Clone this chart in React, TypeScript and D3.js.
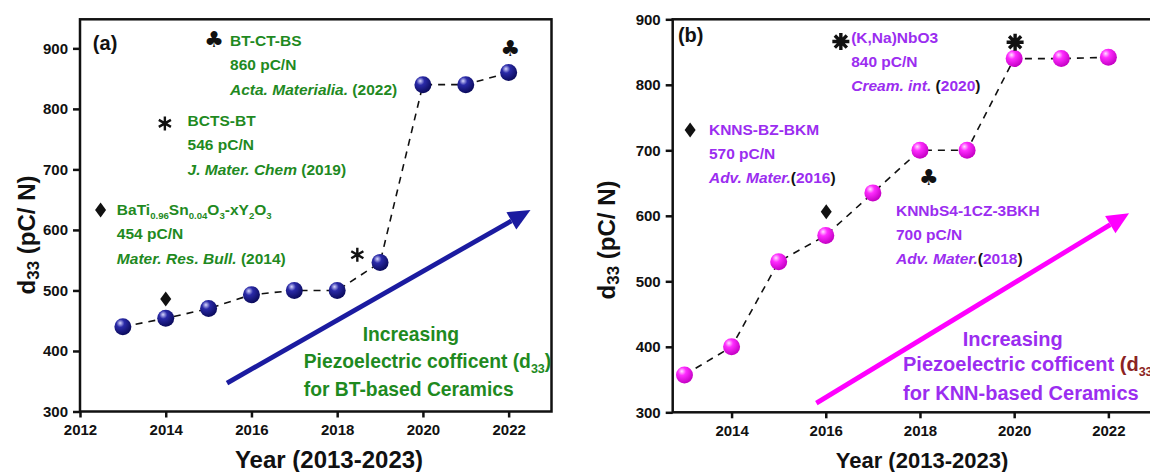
import React, { useEffect, useRef } from 'react';
import * as d3 from 'd3';

const WIDTH = 1150;
const HEIGHT = 472;
const FONT = '"Liberation Sans", Arial, Helvetica, sans-serif';
const SYMBOL_FONT = '"DejaVu Sans", sans-serif';

// d33 values
const years = [2013, 2014, 2015, 2016, 2017, 2018, 2019, 2020, 2021, 2022];
const btValues = [440, 454, 470, 493, 500, 500, 546, 840, 840, 860];
const knnValues = [357, 400, 530, 570, 635, 700, 700, 840, 840, 842];

const yTicks = [300, 400, 500, 600, 700, 800, 900];
const btYearTicks = [2012, 2014, 2016, 2018, 2020, 2022];
const knnYearTicks = [2014, 2016, 2018, 2020, 2022];

const GREEN = '#1f8a1f';
const PURPLE = '#9b2df0';

// annotation blocks (positions are in data units)
const btNotes = [
  {
    mark: 'club', markAt: [2015.13, 914], textAt: [2015.5, 904],
    lines: [
      [{ t: 'BT-CT-BS' }],
      [{ t: '860 pC/N' }],
      [{ t: 'Acta. Materialia.', i: true }, { t: ' (2022)' }],
    ],
  },
  {
    mark: 'star', markAt: [2013.98, 776], textAt: [2014.51, 772],
    lines: [
      [{ t: 'BCTS-BT' }],
      [{ t: '546 pC/N' }],
      [{ t: 'J. Mater. Chem', i: true }, { t: ' (2019)' }],
    ],
  },
  {
    mark: 'diamond', markAt: [2012.48, 633], textAt: [2012.86, 625],
    lines: [
      [{ t: 'BaTi' }, { t: '0.96', s: true }, { t: 'Sn' }, { t: '0.04', s: true }, { t: 'O' }, { t: '3', s: true },
        { t: '-xY' }, { t: '2', s: true }, { t: 'O' }, { t: '3', s: true }],
      [{ t: '454 pC/N' }],
      [{ t: 'Mater. Res. Bull.', i: true }, { t: ' (2014)' }],
    ],
  },
];

const knnNotes = [
  {
    mark: 'star8', markAt: [2016.32, 866], textAt: [2016.54, 864],
    lines: [
      [{ t: '(K,Na)NbO3' }],
      [{ t: '840 pC/N' }],
      [{ t: 'Cream. int.', i: true }, { t: ' (', c: '#111' }, { t: '2020' }, { t: ')', c: '#111' }],
    ],
  },
  {
    mark: 'diamond', markAt: [2013.12, 731], textAt: [2013.52, 723],
    lines: [
      [{ t: 'KNNS-BZ-BKM' }],
      [{ t: '570 pC/N' }],
      [{ t: 'Adv. Mater.', i: true }, { t: '(', c: '#111' }, { t: '2016' }, { t: ')', c: '#111' }],
    ],
  },
  {
    mark: null, markAt: null, textAt: [2017.49, 600],
    lines: [
      [{ t: 'KNNbS4-1CZ-3BKH' }],
      [{ t: '700 pC/N' }],
      [{ t: 'Adv. Mater.', i: true }, { t: '(', c: '#111' }, { t: '2018' }, { t: ')', c: '#111' }],
    ],
  },
];

const btPointMarks = [
  { mark: 'diamond', at: [2014, 486] },
  { mark: 'star', at: [2018.47, 559] },
  { mark: 'club', at: [2022.04, 900] },
];
const knnPointMarks = [
  { mark: 'diamond', at: [2016.01, 606] },
  { mark: 'club', at: [2018.19, 659] },
  { mark: 'star8', at: [2020.02, 865] },
];

const panels = [
  {
    id: 'a', label: '(a)', labelAt: [2012.3, 897],
    xDomain: [2012, 2023], xRange: [80, 551.5],
    yDomain: [300, 948], yRange: [411.5, 19.3],
    xTicks: btYearTicks, values: btValues,
    ball: ['#d8d8ff', '#2a2aa8', '#0b0b5c'],
    textColor: GREEN, arrowColor: '#1b1ba0',
    notes: btNotes, pointMarks: btPointMarks, lineGap: 24.5,
    arrow: [[2015.43, 347], [2022.51, 633]],
    trend: { center: 2019.72, top: 417, left: 2017.22, lines: [372, 326], kind: 'BT', subColor: GREEN, size: 19.3 },
    yTitle: [26, 235], xTitle: [329, 24],
  },
  {
    id: 'b', label: '(b)', labelAt: [2012.86, 865],
    xDomain: [2012.75, 2023.3], xRange: [672.7, 1169.6],
    yDomain: [300, 900], yRange: [412.3, 19.3],
    xTicks: knnYearTicks, values: knnValues,
    ball: ['#ffe0ff', '#ff2cff', '#c400c4'],
    textColor: PURPLE, arrowColor: '#ff00ff',
    notes: knnNotes, pointMarks: knnPointMarks, lineGap: 24,
    arrow: [[2015.8, 314], [2022.44, 604]],
    trend: { center: 2019.97, top: 401, left: 2017.64, lines: [363, 319], kind: 'KNN', subColor: '#8b2323', size: 20 },
    yTitle: [606, 240], xTitle: [922, 22],
  },
];

const Mark = ({ kind, x, y }) => {
  if (kind === 'diamond') {
    return <path d={`M${x},${y - 7.5}L${x + 5.5},${y}L${x},${y + 7.5}L${x - 5.5},${y}Z`} fill="#111" />;
  }
  if (kind === 'club') {
    return (
      <text x={x} y={y} fontFamily={SYMBOL_FONT} fontSize={22} textAnchor="middle"
        dominantBaseline="central" fill="#111">♣</text>
    );
  }
  const n = kind === 'star8' ? 4 : 3;
  const r = kind === 'star8' ? 8.5 : 7;
  const w = kind === 'star8' ? 3.4 : 2.4;
  const d = d3.range(n).map(k => {
    const a = Math.PI / 2 + (k * Math.PI) / n;
    return `M${x - r * Math.cos(a)},${y - r * Math.sin(a)}L${x + r * Math.cos(a)},${y + r * Math.sin(a)}`;
  }).join('');
  return <path d={d} stroke="#111" strokeWidth={w} />;
};

const RichLine = ({ x, y, segs, color, size }) => {
  let shifted = false;
  return (
    <text x={x} y={y} fontFamily={FONT} fontWeight="bold" fontSize={size} fill={color}>
      {segs.map((s, i) => {
        let dy = 0;
        if (s.s && !shifted) { dy = size * 0.3; shifted = true; }
        if (!s.s && shifted) { dy = -size * 0.3; shifted = false; }
        return (
          <tspan key={i} dy={dy || undefined} fontStyle={s.i ? 'italic' : 'normal'}
            fontSize={s.s ? size * 0.62 : size} fill={s.c || color}>{s.t}</tspan>
        );
      })}
    </text>
  );
};

const Panel = ({ p }) => {
  const xAxisRef = useRef(null);
  const yAxisRef = useRef(null);

  const x = d3.scaleLinear().domain(p.xDomain).range(p.xRange);
  const y = d3.scaleLinear().domain(p.yDomain).range(p.yRange);

  useEffect(() => {
    const style = g => {
      g.select('.domain').remove();
      g.selectAll('.tick line').attr('stroke', '#111').attr('stroke-width', 2.5);
      g.selectAll('.tick text')
        .attr('fill', '#111')
        .attr('font-family', FONT)
        .attr('font-weight', 'bold')
        .attr('font-size', 15);
    };
    d3.select(xAxisRef.current)
      .attr('transform', `translate(0, ${p.yRange[0]})`)
      .call(d3.axisBottom(x).tickValues(p.xTicks).tickFormat(d3.format('d')).tickSize(6).tickPadding(7))
      .call(style);
    d3.select(yAxisRef.current)
      .attr('transform', `translate(${p.xRange[0]}, 0)`)
      .call(d3.axisLeft(y).tickValues(yTicks).tickFormat(d3.format('d')).tickSize(7).tickPadding(5))
      .call(style);
  }, [p]);

  const line = d3.line().x(d => x(d[0])).y(d => y(d[1]));
  const pts = years.map((yr, i) => [yr, p.values[i]]);

  // arrow geometry
  const [a0, a1] = p.arrow.map(d => [x(d[0]), y(d[1])]);
  const ang = Math.atan2(a1[1] - a0[1], a1[0] - a0[0]);
  const headLen = 22;
  const headW = 10;
  const base = [a1[0] - headLen * Math.cos(ang), a1[1] - headLen * Math.sin(ang)];
  const head = [
    a1,
    [base[0] + headW * Math.sin(ang), base[1] - headW * Math.cos(ang)],
    [base[0] - headW * Math.sin(ang), base[1] + headW * Math.cos(ang)],
  ];

  const tr = p.trend;
  const fs = tr.size;

  return (
    <g>
      <defs>
        <radialGradient id={`ball-${p.id}`} cx="38%" cy="32%" r="68%" fx="34%" fy="28%">
          <stop offset="0%" stopColor={p.ball[0]} />
          <stop offset="35%" stopColor={p.ball[1]} />
          <stop offset="100%" stopColor={p.ball[2]} />
        </radialGradient>
      </defs>

      <rect x={p.xRange[0]} y={p.yRange[1]} width={p.xRange[1] - p.xRange[0]}
        height={p.yRange[0] - p.yRange[1]} fill="none" stroke="#111" strokeWidth={2.5} />
      <g ref={xAxisRef} />
      <g ref={yAxisRef} />

      <text x={x(p.labelAt[0])} y={y(p.labelAt[1])} fontFamily={FONT} fontWeight="bold"
        fontSize={20} fill="#111">{p.label}</text>

      {/* trend arrow */}
      <line x1={a0[0]} y1={a0[1]} x2={base[0]} y2={base[1]} stroke={p.arrowColor} strokeWidth={4.8} />
      <path d={`M${head.map(d => d.join(',')).join('L')}Z`} fill={p.arrowColor} />

      <path d={line(pts)} fill="none" stroke="#111" strokeWidth={1.6} strokeDasharray="7,6" />
      {pts.map((d, i) => (
        <circle key={i} cx={x(d[0])} cy={y(d[1])} r={8.5} fill={`url(#ball-${p.id})`} />
      ))}

      {p.pointMarks.map((m, i) => (
        <Mark key={i} kind={m.mark} x={x(m.at[0])} y={y(m.at[1])} />
      ))}

      {p.notes.map((n, i) => (
        <g key={i}>
          {n.mark && <Mark kind={n.mark} x={x(n.markAt[0])} y={y(n.markAt[1])} />}
          {n.lines.map((segs, j) => (
            <RichLine key={j} x={x(n.textAt[0])} y={y(n.textAt[1]) + j * p.lineGap}
              segs={segs} color={p.textColor} size={15.5} />
          ))}
        </g>
      ))}

      <text x={x(tr.center)} y={y(tr.top)} textAnchor="middle" fontFamily={FONT} fontWeight="bold"
        fontSize={fs} fill={p.textColor}>Increasing</text>
      <text x={x(tr.left)} y={y(tr.lines[0])} fontFamily={FONT} fontWeight="bold" fontSize={fs} fill={p.textColor}>
        Piezoelectric cofficent <tspan fill={tr.subColor}>(d</tspan>
        <tspan dy={5} fontSize={12.5} fill={tr.subColor}>33</tspan>
        <tspan dy={-5} fill={tr.subColor}>)</tspan>
      </text>
      <text x={x(tr.left)} y={y(tr.lines[1])} fontFamily={FONT} fontWeight="bold" fontSize={fs} fill={p.textColor}>
        {`for ${tr.kind}-based Ceramics`}
      </text>

      <text transform={`translate(${p.yTitle[0]}, ${p.yTitle[1]}) rotate(-90)`} textAnchor="middle"
        dominantBaseline="central" fontFamily={FONT} fontWeight="bold" fontSize={24} fill="#111">
        d<tspan dy={7} fontSize={17}>33</tspan><tspan dy={-7}> (pC/ N)</tspan>
      </text>
      <text x={p.xTitle[0]} y={468} textAnchor="middle" fontFamily={FONT} fontWeight="bold"
        fontSize={p.xTitle[1]} fill="#111">Year (2013-2023)</text>
    </g>
  );
};

export default function App() {
  return (
    <svg width={WIDTH} height={HEIGHT} viewBox={`0 0 ${WIDTH} ${HEIGHT}`}
      style={{ position: 'absolute', left: 0, top: 0, background: '#fff' }}>
      <rect width={WIDTH} height={HEIGHT} fill="#fff" />
      {panels.map(p => <Panel key={p.id} p={p} />)}
    </svg>
  );
}
